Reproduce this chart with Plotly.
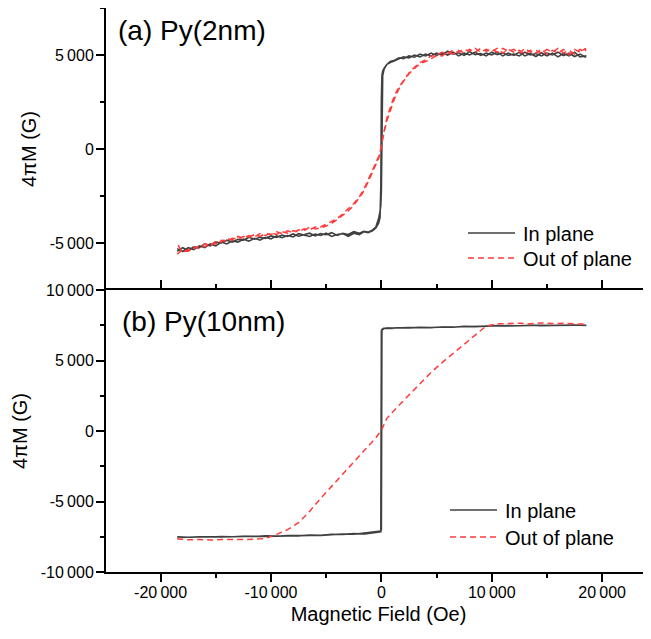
import plotly.graph_objects as go

# ---------------- data ----------------
# field grid shared by the Py(2nm) curves (Oe)
field_a = [-18500, -18000, -17500, -17000, -16500, -16000, -15500, -15000, -14500, -14000,
           -13500, -13000, -12500, -12000, -11500, -11000, -10500, -10000, -9500, -9000,
           -8500, -8000, -7500, -7000, -6500, -6000, -5500, -5000, -4500, -4000,
           -3500, -3000, -2500,
           -2000, -1600, -1200, -800, -500, -250, -120, -50, 0, 50, 120, 250, 500, 800, 1200, 1600, 2000,
           2500, 3000, 3500, 4000, 4500, 5000, 5500, 6000, 6500, 7000,
           7500, 8000, 8500, 9000, 9500, 10000, 10500, 11000, 11500, 12000,
           12500, 13000, 13500, 14000, 14500, 15000, 15500, 16000, 16500, 17000,
           17500, 18000, 18500]

# (a) in plane, increasing-field sweep (G)
inplane_a_up = [-5450, -5250, -5400, -5200, -5250, -5050, -5150, -4950, -5000, -4850,
                -4950, -4800, -4850, -4700, -4800, -4700, -4750, -4620, -4700, -4580,
                -4650, -4520, -4640, -4550, -4480, -4620, -4500, -4560, -4450, -4600,
                -4480, -4550, -4400,
                -4480, -4380, -4420, -4300, -4150, -3700, -3300, -3000, -2200, 2500, 3900, 4250, 4500, 4650, 4720, 4850, 4800,
                4950, 4880, 5050, 4950, 5100, 4980, 5120, 5000, 5150, 4950,
                5100, 5000, 5150, 4980, 5100, 5000, 5150, 4950, 5100, 4980,
                5150, 4950, 5080, 4920, 5120, 4950, 5100, 4900, 5080, 4950,
                5150, 4900, 4950]
# (a) in plane, decreasing-field sweep (listed in increasing-field order)
inplane_a_down = [-5300, -5450, -5250, -5350, -5150, -5250, -5050, -5150, -4950, -5050,
                  -4880, -4950, -4800, -4900, -4750, -4850, -4700, -4780, -4620, -4720,
                  -4600, -4680, -4500, -4580, -4650, -4520, -4600, -4480, -4650, -4550,
                  -4500, -4650, -4480,
                  -4550, -4400, -4450, -4350, -4200, -3950, -3650, -2000, 2600, 3900, 4150, 4300, 4500, 4600, 4700, 4780, 4900,
                  4850, 5000, 4900, 5050, 4950, 5100, 5000, 5200, 5050, 5120,
                  4980, 5180, 5020, 5080, 4950, 5150, 5020, 5120, 4980, 5050,
                  4950, 5150, 5000, 5080, 4950, 5100, 5000, 5150, 4970, 5100,
                  4920, 5050, 4880]
# (a) out of plane, increasing-field sweep
outplane_a_up = [-5600, -5350, -5450, -5200, -5300, -5050, -5150, -4900, -4950, -4750,
                 -4850, -4650, -4750, -4600, -4680, -4500, -4600, -4450, -4550, -4400,
                 -4480, -4350, -4400, -4250, -4300, -4150, -4150, -4000, -3850, -3700,
                 -3450, -3200, -2900,
                 -2550, -2150, -1650, -1150, -750, -400, -150, 0, 150, 350, 600, 1000, 1650, 2200, 2850, 3300, 3650,
                 4050, 4350, 4600, 4750, 4950, 5000, 5150, 5100, 5250, 5150,
                 5300, 5200, 5350, 5150, 5300, 5200, 5350, 5100, 5300, 5150,
                 5250, 5050, 5250, 5100, 5300, 5050, 5250, 5100, 5300, 5000,
                 5300, 5150, 5350]
# (a) out of plane, decreasing-field sweep (listed in increasing-field order)
outplane_a_down = [-5050, -5500, -5350, -5300, -5150, -5200, -5000, -5050, -4850, -4900,
                   -4750, -4800, -4650, -4700, -4550, -4650, -4500, -4550, -4400, -4500,
                   -4350, -4450, -4300, -4350, -4150, -4250, -4200, -4100, -3950, -3750,
                   -3550, -3300, -3000,
                   -2600, -2250, -1750, -1250, -850, -500, -250, -100, 50, 250, 500, 900, 1500, 2050, 2700, 3200, 3600,
                   4000, 4300, 4550, 4650, 4800, 4950, 4950, 5150, 5050, 5250,
                   5100, 5300, 5150, 5350, 5200, 5300, 5150, 5350, 5200, 5300,
                   5100, 5350, 5150, 5250, 5100, 5300, 5150, 5350, 5100, 5250,
                   5050, 5300, 5150]

# field grid for the Py(10nm) in-plane loop (Oe)
field_b_in = [-18500, -17500, -16500, -15500, -14500, -13500, -12500, -11500, -10500, -9500,
              -8500, -7500, -6500, -5500, -4500, -3500, -2500, -1500,
              -1000, -500, -200, -50, 0, 50, 200, 500, 1000,
              1500, 2500, 3500, 4500, 5500, 6500, 7500, 8500, 9500,
              10500, 11500, 12500, 13500, 14500, 15500, 16500, 17500, 18500]
inplane_b_up = [-7550, -7520, -7530, -7500, -7510, -7480, -7490, -7460, -7470, -7440,
                -7450, -7420, -7400, -7410, -7350, -7300, -7320, -7250,
                -7200, -7180, -7150, -7100, -7000, 7150, 7250, 7300, 7280,
                7320, 7300, 7350, 7330, 7380, 7360, 7420, 7400, 7450,
                7470, 7450, 7480, 7460, 7500, 7480, 7510, 7500, 7500]
inplane_b_down = [-7500, -7540, -7500, -7520, -7480, -7500, -7460, -7480, -7440, -7460,
                  -7420, -7440, -7380, -7400, -7330, -7340, -7280, -7300,
                  -7230, -7200, -7170, -7150, 7100, 7200, 7280, 7260, 7320,
                  7300, 7340, 7320, 7370, 7350, 7400, 7380, 7440, 7420,
                  7460, 7480, 7460, 7500, 7470, 7510, 7490, 7520, 7480]

# field grid for the Py(10nm) out-of-plane curve (Oe)
field_b_out = [-18500, -17500, -16500, -15500, -14500, -13500, -12500, -11500, -10500, -9500,
               -8500, -7500, -6500, -5500, -4500, -3500, -2500, -1500, -500, 0,
               500, 1500, 2500, 3500, 4500, 5500, 6500, 7500, 8500, 9500,
               10500, 11500, 12500, 13500, 14500, 15500, 16500, 17500, 18500]
outplane_b = [-7650, -7720, -7700, -7730, -7700, -7720, -7700, -7680, -7620, -7330,
              -7000, -6500, -5700, -4780, -3920, -3060, -2200, -1330, -480, 50,
              900, 1750, 2570, 3350, 4150, 4850, 5500, 6150, 6850, 7450,
              7600, 7620, 7650, 7600, 7660, 7620, 7640, 7600, 7580]

# axis ticks
x_tick_vals = [-20000, -10000, 0, 10000, 20000]
x_tick_text = ["-20\u2009000", "-10\u2009000", "0", "10\u2009000", "20\u2009000"]
x_minor_vals = [-25000, -15000, -5000, 5000, 15000]
ya_tick_vals = [-5000, 0, 5000]
ya_tick_text = ["-5\u2009000", "0", "5\u2009000"]
ya_minor_vals = [-7500, -2500, 2500, 7500]
yb_tick_vals = [-10000, -5000, 0, 5000, 10000]
yb_tick_text = ["-10\u2009000", "-5\u2009000", "0", "5\u2009000", "10\u2009000"]
yb_minor_vals = [-7500, -2500, 2500, 7500]

series_names = ["In plane", "Out of plane"]
panel_labels = ["(a) Py(2nm)", "(b) Py(10nm)"]

# ---------------- figure ----------------
BLACK = "#404040"
RED = "#ff3b3b"
DASH = "6px,4px"
FONT = "Arial, Liberation Sans, sans-serif"

# the page has an 8px body margin; the figure is sized to fill the rest of the window
W, H = 643, 631
ML, MT, MB = 98, 0, 67
PW, PH = W - ML, H - MT - MB


def px_x(page_x):
    return (page_x - 8 - ML) / PW


def px_y(page_y):
    return (H - MB - (page_y - 8)) / PH


fig = go.Figure()

fig.add_trace(go.Scatter(
    x=field_a + field_a[::-1], y=inplane_a_up + inplane_a_down[::-1],
    mode="lines", name=series_names[0], line=dict(color=BLACK, width=1.6),
    xaxis="x", yaxis="y", showlegend=False))
fig.add_trace(go.Scatter(
    x=field_a + field_a[::-1], y=outplane_a_up + outplane_a_down[::-1],
    mode="lines", name=series_names[1], line=dict(color=RED, width=1.5, dash=DASH),
    xaxis="x", yaxis="y", showlegend=False))

fig.add_trace(go.Scatter(
    x=field_b_in + field_b_in[::-1], y=inplane_b_up + inplane_b_down[::-1],
    mode="lines", name=series_names[0], line=dict(color=BLACK, width=1.6),
    xaxis="x2", yaxis="y2", showlegend=False))
fig.add_trace(go.Scatter(
    x=field_b_out, y=outplane_b,
    mode="lines", name=series_names[1], line=dict(color=RED, width=1.5, dash=DASH),
    xaxis="x2", yaxis="y2", showlegend=False))

xrange = [-24950, 24430]
axis_common = dict(showline=True, linecolor="black", linewidth=2, showgrid=False,
                   zeroline=False, automargin=False,
                   tickfont=dict(family=FONT, size=16, color="black"))
tick_common = dict(ticks="outside", ticklen=8, tickwidth=2, tickcolor="black")

# legends (drawn as key lines + labels, one per panel)
legend_specs = [
    # (line x0, line x1, text x, row y's) in page pixels
    (468, 515, 521, [233, 258]),
    (450, 497, 503, [510, 537]),
]
shapes = []
annotations = []
for (lx0, lx1, tx, rows) in legend_specs:
    for name, ry, color, dash in zip(series_names, rows, [BLACK, RED], ["solid", DASH]):
        shapes.append(dict(type="line", xref="paper", yref="paper",
                           x0=px_x(lx0), x1=px_x(lx1), y0=px_y(ry), y1=px_y(ry),
                           line=dict(color=color, width=1.6, dash=dash)))
        annotations.append(dict(text=name, xref="paper", yref="paper",
                                x=px_x(tx), y=px_y(ry + 1), xanchor="left", yanchor="middle",
                                showarrow=False,
                                font=dict(family=FONT, size=20, color="black")))

annotations.append(dict(text=panel_labels[0], xref="paper", yref="paper",
                        x=px_x(116), y=px_y(31), xanchor="left", yanchor="middle",
                        showarrow=False, font=dict(family=FONT, size=28, color="black")))
annotations.append(dict(text=panel_labels[1], xref="paper", yref="paper",
                        x=px_x(120), y=px_y(321), xanchor="left", yanchor="middle",
                        showarrow=False, font=dict(family=FONT, size=28, color="black")))

split = (564 - 282) / PH  # panel boundary at page y ~290

fig.update_layout(
    width=W, height=H,
    margin=dict(l=ML, r=0, t=MT, b=MB, autoexpand=False),
    paper_bgcolor="white", plot_bgcolor="white",
    font=dict(family=FONT, color="black"),
    showlegend=False,
    # top panel: only its top frame line; the shared border comes from the lower panel
    xaxis=dict(**axis_common, domain=[0, 1], anchor="y", range=xrange, side="top",
               mirror=False, ticks="", showticklabels=False),
    yaxis=dict(**axis_common, **tick_common, domain=[split, 1], anchor="x", range=[-7500, 7500],
               tickmode="array", tickvals=ya_tick_vals, ticktext=ya_tick_text,
               ticklabelstandoff=-1,
               minor=dict(tickmode="array", tickvals=ya_minor_vals, ticks="outside",
                          ticklen=4, tickwidth=2, tickcolor="black"),
               title=dict(text="4πM (G)", font=dict(family=FONT, size=20), standoff=8)),
    xaxis2=dict(**axis_common, **tick_common, domain=[0, 1], anchor="y2", range=xrange,
                mirror="ticks",
                tickmode="array", tickvals=x_tick_vals, ticktext=x_tick_text,
                ticklabelstandoff=-3,
                minor=dict(tickmode="array", tickvals=x_minor_vals, ticks="outside",
                           ticklen=4, tickwidth=2, tickcolor="black"),
                title=dict(text="Magnetic Field (Oe)", font=dict(family=FONT, size=20), standoff=7)),
    yaxis2=dict(**axis_common, **tick_common, domain=[0, split], anchor="x2", range=[-10000, 10000],
                tickmode="array", tickvals=yb_tick_vals, ticktext=yb_tick_text,
                ticklabelstandoff=-1,
                minor=dict(tickmode="array", tickvals=yb_minor_vals, ticks="outside",
                           ticklen=4, tickwidth=2, tickcolor="black"),
                title=dict(text="4πM (G)", font=dict(family=FONT, size=20), standoff=8)),
    shapes=shapes,
    annotations=annotations,
)

fig.write_html("out.html")
